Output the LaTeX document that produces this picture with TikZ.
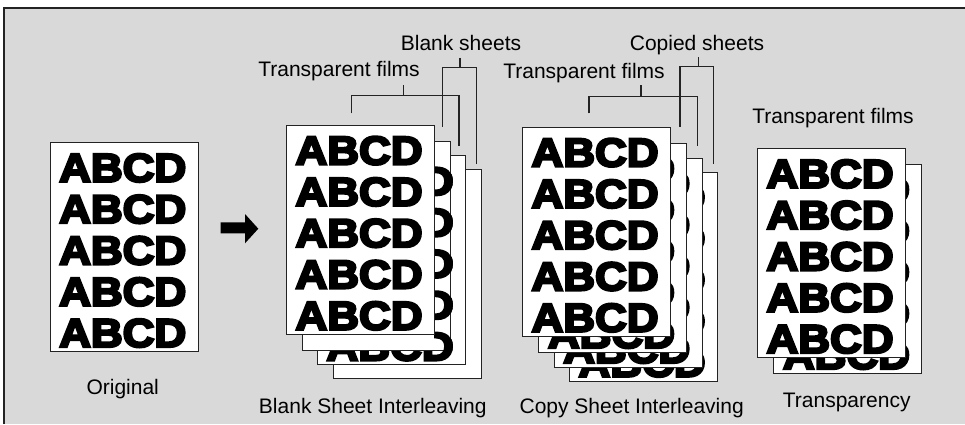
\documentclass[tikz,border=0pt]{standalone}
\usepackage{fontspec}
\setmainfont{Liberation Sans}
\newfontfamily\abcdfont{Liberation Sans Bold}[FakeStretch=1.1,FakeBold=6]
\definecolor{bggray}{RGB}{217,217,217}
\definecolor{inkc}{RGB}{35,35,35}
\tikzset{
  sheetbox/.style={draw=inkc, fill=white, line width=1pt, anchor=north west,
    minimum width=148pt, minimum height=209pt, inner sep=0pt, outer sep=0pt},
  abcd/.style={anchor=base west, inner sep=0pt, text=black,
    font=\abcdfont\fontsize{40}{40}\selectfont},
  lbl/.style={anchor=base, inner sep=0pt, text=black,
    font=\fontsize{21}{25}\selectfont},
  brk/.style={draw=inkc, line width=1.3pt},
  frameline/.style={draw=inkc, line width=1.8pt}
}
\newcommand\sheetnode[4]{%
  \node[sheetbox] (#1) at (#2,#3) {};
  \ifnum#4=1
    \foreach \k in {0,...,4}{\node[abcd] (#1-r\k) at (#2+9,#3+39.4+41.3*\k) {ABCD};}
  \fi
}
\begin{document}
\begin{tikzpicture}[x=1pt,y=-1pt]
\useasboundingbox (0,0) rectangle (965,424);
\fill[white] (0,0) rectangle (965,424);
\fill[bggray] (4,8) rectangle (965,424);
\draw[frameline] (4,424) -- (4,8) -- (965,8);

% Original
\sheetnode{orig}{50}{142.3}{1}
\node[lbl] (origlbl) at (122.7,394) {Original};

% arrow
\fill[black] (220.7,222.3) -- (245,222.3) -- (245,214) -- (258.3,228.7)
  -- (245,243.3) -- (245,233.3) -- (220.7,233.3) -- cycle;

% Blank sheet interleaving
\sheetnode{b4}{333.3}{169.3}{0}
\sheetnode{b3}{317.3}{155.7}{1}
\sheetnode{b2}{302.3}{141}{0}
\begin{scope}
  \clip (434,155.7) rectangle (466,350);
  \foreach \k in {0,...,4}{\node[abcd] (b3-s\k) at (317.3+9,155.7+39.4+41.3*\k) {ABCD};}
\end{scope}
\sheetnode{b1}{286.3}{125}{1}
\node[lbl] (blbl) at (372.8,413) {Blank Sheet Interleaving};
\node[lbl] (btf) at (339,76.5) {Transparent films};
\node[lbl] (bbs) at (461,50) {Blank sheets};

\coordinate (btfS) at (403.3,85);
\coordinate (btfH) at (403.3,95.7);
\coordinate (btfL) at (351.7,113.3);
\coordinate (btfR) at (459,145.7);
\draw[brk] (btfL) |- (btfH) -| (btfR);
\draw[brk] (btfS) -- (btfH);
\coordinate (bbsS) at (460,57.7);
\coordinate (bbsH) at (460,67.7);
\coordinate (bbsL) at (442.3,126.7);
\coordinate (bbsR) at (476.3,164.3);
\draw[brk] (bbsL) |- (bbsH) -| (bbsR);
\draw[brk] (bbsS) -- (bbsH);

% Copy sheet interleaving
\sheetnode{c4}{569.3}{172}{1}
\sheetnode{c3}{554}{158.3}{1}
\sheetnode{c2}{538.7}{143.3}{1}
\sheetnode{c1}{522.3}{127}{1}
\node[lbl] (clbl) at (631.7,413) {Copy Sheet Interleaving};
\node[lbl] (ctf) at (584,78.3) {Transparent films};
\node[lbl] (ccs) at (697,50) {Copied sheets};

\coordinate (ctfS) at (641,85);
\coordinate (ctfH) at (641,96.7);
\coordinate (ctfL) at (589,113.3);
\coordinate (ctfR) at (697.3,145.7);
\draw[brk] (ctfL) |- (ctfH) -| (ctfR);
\draw[brk] (ctfS) -- (ctfH);
\coordinate (ccsS) at (698.3,57.3);
\coordinate (ccsH) at (698.3,66.7);
\coordinate (ccsL) at (680,126.7);
\coordinate (ccsR) at (713.3,164.3);
\draw[brk] (ccsL) |- (ccsH) -| (ccsR);
\draw[brk] (ccsS) -- (ccsH);

% Transparency
\sheetnode{t2}{773.7}{164.3}{1}
\sheetnode{t1}{757.3}{148.3}{1}
\node[lbl] (tlbl) at (846.7,407) {Transparency};
\node[lbl] (ttf) at (833,123.3) {Transparent films};
\end{tikzpicture}
\end{document}
